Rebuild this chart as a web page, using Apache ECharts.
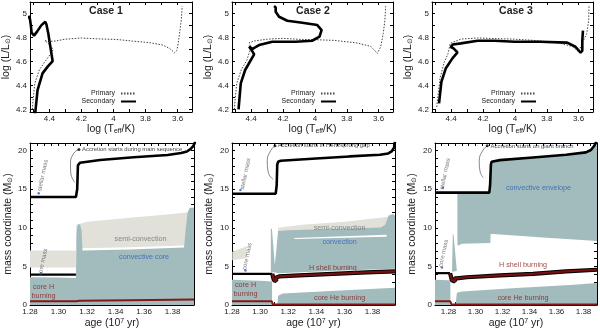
<!DOCTYPE html>
<html>
<head>
<meta charset="utf-8">
<script src="https://cdn.jsdelivr.net/npm/echarts@6/dist/echarts.min.js"></script>
<style>
  html, body { margin: 0; padding: 0; background: #fff; }
  #chart { width: 600px; height: 334px; }
</style>
</head>
<body>
<div id="chart"></div>
<script>
// ---- tick values / labels ----
const hrTempTicks = [3.6, 3.7, 3.8, 3.9, 4.0, 4.1, 4.2, 4.3, 4.4, 4.5]
const hrTempLabels = [3.6, 3.8, 4.0, 4.2, 4.4]
const hrLumTicks = [4.2, 4.3, 4.4, 4.5, 4.6, 4.7, 4.8, 4.9, 5.0]
const hrLumLabels = [4.2, 4.4, 4.6, 4.8, 5.0]
const ageTicks = [1.27, 1.275, 1.28, 1.285, 1.29, 1.295, 1.30, 1.305, 1.31, 1.315, 1.32, 1.325,
  1.33, 1.335, 1.34, 1.345, 1.35, 1.355, 1.36, 1.365, 1.37, 1.375, 1.38, 1.385, 1.39, 1.395]
const ageLabels = [1.28, 1.30, 1.32, 1.34, 1.36, 1.38]
const massTicks = [0, 1, 2, 3, 4, 5, 6, 7, 8, 9, 10, 11, 12, 13, 14, 15, 16, 17, 18, 19, 20, 21]
const massLabels = [0, 5, 10, 15, 20]

// ---- HR tracks: [log Teff, log L] ----
const primary1 = [[4.505, 4.2], [4.503, 4.25], [4.49, 4.417], [4.4625, 4.528], [4.427, 4.597], [4.39, 4.667],
  [4.375, 4.7], [4.395, 4.735], [4.428, 4.775], [4.41, 4.765], [4.36, 4.77], [4.3, 4.785], [4.2, 4.795],
  [4.0875, 4.787], [3.983, 4.783], [3.879, 4.769], [3.775, 4.756], [3.692, 4.736], [3.65, 4.708],
  [3.619, 4.672], [3.605, 4.69], [3.598, 4.736], [3.5875, 4.833], [3.577, 4.944], [3.571, 5.06]]
const secondary1 = [[4.489, 4.15], [4.473, 4.361], [4.442, 4.5], [4.41, 4.556], [4.379, 4.603], [4.39, 4.694],
  [4.406, 4.833], [4.418, 4.91], [4.425, 4.93], [4.435, 4.925], [4.45, 4.9], [4.475, 4.85], [4.495, 4.815],
  [4.503, 4.81], [4.51, 4.84], [4.515, 4.9], [4.52, 4.95], [4.53, 4.98]]
const primary2 = [[4.505, 4.2], [4.503, 4.25], [4.49, 4.417], [4.4625, 4.528], [4.427, 4.61], [4.41, 4.68],
  [4.405, 4.73], [4.412, 4.756], [4.38, 4.77], [4.3, 4.785], [4.2, 4.792], [4.0875, 4.783], [3.98, 4.78],
  [3.879, 4.775], [3.733, 4.753], [3.65, 4.725], [3.608, 4.667], [3.5875, 4.722], [3.571, 4.833],
  [3.561, 4.944], [3.556, 5.06]]
const secondary2 = [[4.479, 4.2], [4.465, 4.417], [4.4375, 4.528], [4.408, 4.597], [4.381, 4.658],
  [4.395, 4.69], [4.4125, 4.722], [4.39, 4.705], [4.37, 4.72], [4.35, 4.736], [4.267, 4.764],
  [4.121, 4.764], [4.017, 4.772], [3.971, 4.806], [3.958, 4.861], [3.985, 4.903], [4.079, 4.922],
  [4.173, 4.939], [4.225, 4.972], [4.246, 5.014], [4.246, 5.05], [4.256, 5.061]]
const primary3 = [[4.49, 4.22], [4.487, 4.263], [4.47, 4.458], [4.444, 4.59], [4.419, 4.666], [4.406, 4.75],
  [4.4125, 4.758], [4.339, 4.786], [4.234, 4.795], [4.128, 4.79], [4.0, 4.785], [3.88, 4.775],
  [3.72, 4.752], [3.64, 4.725], [3.6, 4.68], [3.575, 4.76], [3.55, 4.83], [3.537, 4.94], [3.535, 5.07]]
const secondary3 = [[4.476, 4.25], [4.461, 4.43], [4.434, 4.54], [4.392, 4.625], [4.36, 4.675],
  [4.385, 4.708], [4.402, 4.72], [4.39, 4.74], [4.339, 4.75], [4.234, 4.772], [4.128, 4.772],
  [4.0, 4.764], [3.841, 4.764], [3.672, 4.756], [3.62, 4.722], [3.588, 4.672], [3.577, 4.69],
  [3.577, 4.778], [3.573, 4.856]]

// ---- Kippenhahn panels: [age (1e7 yr), mass coordinate (Msun)] ----
const stellarMass1 = [[1.28, 14.0], [1.3122, 14.0], [1.3131, 15.0], [1.3136, 18.1], [1.315, 18.45],
  [1.3292, 18.8], [1.3528, 19.15], [1.3765, 19.45], [1.386, 19.7], [1.39, 19.9], [1.3925, 20.2],
  [1.3945, 20.6], [1.396, 21.2]]
const coreMass1 = [[1.28, 3.93], [1.3122, 3.93]]
const coreHBurning1 = [[1.28, 0.5], [1.3125, 0.5], [1.3133, 0.32], [1.3145, 0.55], [1.35, 0.62], [1.395, 0.72]]
const convCore1 = [[1.28, 0], [1.28, 3.6], [1.3, 3.55], [1.3122, 3.5], [1.3126, 9.0], [1.313, 10.1],
  [1.314, 10.5], [1.3152, 10.4], [1.3162, 9.6], [1.3168, 7.05], [1.35, 7.2], [1.388, 7.45],
  [1.389, 9.5], [1.3905, 12.0], [1.392, 12.6], [1.395, 12.6], [1.395, 0]]
const semiConv1Early = [[1.28, 4.85], [1.28, 7.05], [1.3122, 7.05], [1.3122, 4.85]]
const semiConv1Late = [[1.3125, 7.3], [1.3125, 10.4], [1.32, 10.8], [1.35, 11.3], [1.38, 11.8],
  [1.394, 12.1], [1.394, 7.75], [1.35, 7.5], [1.3168, 7.35]]
const accretionArrow1 = [[1.3143, 20.17], [1.3107, 19.66], [1.3084, 18.38], [1.3086, 17.1], [1.3114, 15.9]]

const stellarMass2 = [[1.28, 14.43], [1.3111, 14.43], [1.3118, 15.5], [1.3122, 18.2], [1.3128, 18.57],
  [1.3147, 18.7], [1.3398, 19.0], [1.3637, 19.26], [1.3853, 19.48], [1.3912, 19.65], [1.3936, 19.9],
  [1.3953, 20.4], [1.396, 21.2]]
const coreMass2 = [[1.28, 4.04], [1.3087, 4.04]]
const hShell2 = [[1.3087, 4.04], [1.3092, 3.6], [1.3098, 3.2], [1.3106, 3.05], [1.3115, 3.1],
  [1.3119, 3.35], [1.3112, 3.55], [1.3122, 3.6], [1.3135, 3.7], [1.3278, 3.83], [1.3517, 4.04],
  [1.3757, 4.22], [1.396, 4.35]]
const coreHBurning2 = [[1.28, 0.5], [1.3082, 0.5], [1.3092, 0.05], [1.396, 0.05]]
const convCore2 = [[1.28, 0], [1.28, 3.26], [1.3, 3.15], [1.3085, 3.05], [1.3085, 0]]
const convUpper2 = [[1.3076, 4.3], [1.3076, 9.9], [1.3084, 9.9], [1.3105, 5.2], [1.3128, 9.6], [1.32, 9.7],
  [1.35, 9.85], [1.386, 10.05], [1.389, 10.4], [1.3915, 11.6], [1.3945, 11.8], [1.396, 11.6],
  [1.396, 4.7], [1.35, 4.4], [1.3135, 4.1], [1.3105, 4.2]]
const convGap2 = [[1.3245, 8.55], [1.39, 8.85], [1.39, 9.1], [1.3245, 8.7]]
const convHe2 = [[1.3123, 0], [1.3128, 1.2], [1.316, 1.5], [1.35, 1.8], [1.396, 2.25], [1.396, 0]]
const semiConv2Early = [[1.2802, 5.8], [1.2802, 6.9], [1.2905, 7.6], [1.2905, 6.1]]
const semiConv2Late = [[1.3128, 9.5], [1.3128, 10.0], [1.33, 10.4], [1.36, 10.8], [1.39, 11.4],
  [1.396, 11.5], [1.396, 10.0]]
const accretionArrow2 = [[1.3106, 20.65], [1.3075, 20.0], [1.3051, 18.7], [1.3058, 17.2], [1.3092, 16.3]]

const stellarMass3 = [[1.27, 14.57], [1.3102, 14.57], [1.3108, 15.5], [1.3114, 18.2], [1.3119, 18.57],
  [1.318, 18.78], [1.3426, 19.13], [1.3671, 19.48], [1.3818, 19.78], [1.3855, 20.09], [1.388, 20.65],
  [1.3895, 21.2]]
const coreMass3 = [[1.27, 4.13], [1.2812, 4.13]]
const hShell3 = [[1.2812, 4.13], [1.2818, 3.7], [1.2825, 3.2], [1.2835, 3.0], [1.2848, 3.05], [1.2852, 3.3],
  [1.2845, 3.45], [1.2861, 3.45], [1.2935, 3.6], [1.318, 3.83], [1.3426, 4.04], [1.3671, 4.35], [1.39, 4.57]]
const coreHBurning3 = [[1.27, 0.5], [1.2812, 0.5], [1.2822, 0.08], [1.39, 0.08]]
const convCore3 = [[1.27, 0], [1.27, 3.26], [1.28, 3.2], [1.2814, 3.15], [1.2814, 0]]
const convSpike3 = [[1.2826, 4.3], [1.2832, 9.3], [1.2838, 9.0], [1.2862, 4.4]]
const convEnvelope3 = [[1.2866, 7.8], [1.2866, 14.57], [1.3102, 14.57], [1.3108, 15.5], [1.3114, 18.2],
  [1.3119, 18.57], [1.318, 18.78], [1.3426, 19.13], [1.3671, 19.48], [1.3818, 19.78], [1.3855, 20.09],
  [1.388, 20.65], [1.39, 21.0], [1.39, 8.3], [1.35, 8.75], [1.313, 9.2], [1.3112, 9.2], [1.311, 8.05],
  [1.29, 7.95], [1.2875, 7.7]]
const convHe3 = [[1.2852, 0], [1.2862, 1.6], [1.29, 1.75], [1.33, 2.2], [1.37, 2.6], [1.39, 2.85], [1.39, 0]]
const accretionArrow3 = [[1.3087, 20.65], [1.3053, 20.0], [1.3028, 18.7], [1.3033, 17.4], [1.3058, 16.5]]

// annotation anchors (data coords)
const accretionNotes = [
  { at: [1.3165, 20.2], text: 'Accretion starts during main sequence' },
  { at: [1.3125, 20.65], text: 'Accretion starts in Hertzsprung gap' },
  { at: [1.3112, 20.55], text: 'Accretion starts on giant branch' },
]
const stellarMassNotes = [[1.289, 16.8], [1.2896, 17.0], [1.2775, 17.0]]
const stellarMassDots = [[1.2861, 14.5], [1.286, 14.9], [1.2758, 15.2]]
const coreMassNotes = [[1.289, 5.55], [1.2908, 6.3], [1.2763, 6.7]]
const coreMassDots = [[1.2878, 4.1], [1.2896, 4.48], [1.2751, 4.87]]
const regionNotes = [
  [[1.3575, 8.6, 'semi-convection', 'grey'], [1.36, 6.2, 'convective core', 'blue'], [1.2895, 1.8, 'core H\nburning', 'red']],
  [[1.3566, 10.0, 'semi-convection', 'grey'], [1.3566, 8.1, 'convection', 'blue'], [1.3518, 4.75, 'H shell burning', 'red'],
    [1.2896, 1.95, 'core H\nburning', 'red'], [1.3566, 0.87, 'core He burning', 'red']],
  [[1.3467, 15.2, 'convective envelope', 'blue'], [1.3352, 5.2, 'H shell burning', 'red'], [1.3352, 0.96, 'core He burning', 'red']],
]

const FONT = 'Liberation Sans'
const TEAL = '#a2bcbd'
const SEMI = '#e1e1da'
const RED = '#861616'
const TEXT_COLORS = { grey: '#6e6e6e', blue: '#2c5db5', red: RED }

const grids = [
  { left: 30, top: 2, width: 162, height: 110 },
  { left: 232, top: 2, width: 161, height: 110 },
  { left: 432, top: 2, width: 161, height: 110 },
  { left: 30, top: 143, width: 164, height: 162 },
  { left: 232, top: 143, width: 163, height: 162 },
  { left: 435, top: 143, width: 162, height: 162 },
]

const nameStyle = {
  fontSize: 10.5, color: '#222', fontFamily: FONT,
  rich: {
    sub: { fontSize: 7, fontFamily: FONT, color: '#222', verticalAlign: 'bottom' },
    sup: { fontSize: 7, fontFamily: FONT, color: '#222', verticalAlign: 'top' },
  },
}

const trimNum = (v) => String(+v.toFixed(2))
const ageFmt = (v) => v.toFixed(2)

function axisPair(kind, gi, min, max, ticks, labels, fmt, name, nameGap, inverse) {
  const base = {
    type: 'value', gridIndex: gi, min, max, inverse: !!inverse,
    splitLine: { show: false },
    axisLine: { show: true, onZero: false, lineStyle: { color: '#000', width: 1 } },
    axisTick: { show: true, inside: true, length: 3, customValues: ticks, lineStyle: { color: '#000' } },
  }
  const main = {
    ...base,
    position: kind === 'x' ? 'bottom' : 'left',
    axisLabel: { customValues: labels, formatter: fmt, fontSize: 8, color: '#222', fontFamily: FONT, margin: 3 },
    name, nameLocation: 'middle', nameGap, nameTextStyle: nameStyle,
  }
  const mirror = { ...base, position: kind === 'x' ? 'top' : 'right', axisLabel: { show: false } }
  return [main, mirror]
}

const xAxis = []
const yAxis = []
for (let i = 0; i < 3; i++) {
  xAxis.push(...axisPair('x', i, 3.51, 4.52, hrTempTicks, hrTempLabels, trimNum, 'log (T{sub|eff}/K)', 7, true))
  yAxis.push(...axisPair('y', i, 4.178, 5.095, hrLumTicks, hrLumLabels, trimNum, 'log (L/L{sub|⊙})', i === 0 ? 16 : 17))
}
const ageRanges = [[1.28, 1.395], [1.28, 1.396], [1.27, 1.39]]
for (let i = 0; i < 3; i++) {
  xAxis.push(...axisPair('x', 3 + i, ageRanges[i][0], ageRanges[i][1],
    ageTicks.filter((t) => t >= ageRanges[i][0] - 1e-9 && t <= ageRanges[i][1] + 1e-9), ageLabels, ageFmt,
    'age (10{sup|7} yr)', 13))
  yAxis.push(...axisPair('y', 3 + i, 0, 21, massTicks, massLabels, String, 'mass coordinate (M{sub|⊙})', i === 0 ? 16 : 17))
}

const series = []

function line(gi, data, color, width, extra) {
  series.push(Object.assign({
    type: 'line', xAxisIndex: 2 * gi, yAxisIndex: 2 * gi, data,
    showSymbol: false, symbol: 'none', silent: true, z: 4,
    lineStyle: { color, width }, itemStyle: { color },
  }, extra || {}))
}

function poly(gi, pts, fill, z) {
  series.push({
    type: 'custom', xAxisIndex: 2 * gi, yAxisIndex: 2 * gi, data: pts, silent: true, clip: true, z,
    renderItem: (params, api) => {
      if (params.dataIndex !== 0) return null
      return { type: 'polygon', shape: { points: pts.map((p) => api.coord(p)) }, style: { fill } }
    },
  })
}

function texts(gi, items, z) {
  series.push({
    type: 'scatter', xAxisIndex: 2 * gi, yAxisIndex: 2 * gi, symbolSize: 0, silent: true, z: z || 6,
    data: items.map((it) => ({
      value: it.at,
      label: Object.assign({
        show: true, position: [0, 0], formatter: it.text, fontFamily: FONT,
        align: 'center', verticalAlign: 'middle', lineHeight: 9,
      }, it.style),
    })),
  })
}

function dots(gi, pts, color, size) {
  series.push({
    type: 'scatter', xAxisIndex: 2 * gi, yAxisIndex: 2 * gi, data: pts, symbolSize: size,
    itemStyle: { color }, silent: true, z: 6,
  })
}

// HR diagrams
const hrTracks = [[primary1, secondary1], [primary2, secondary2], [primary3, secondary3]]
hrTracks.forEach(([p, s], gi) => {
  line(gi, p, '#444', 1, { name: 'Primary', lineStyle: { color: '#444', width: 1, type: [1.5, 1.5] } })
  line(gi, s, '#000', 2.6, { name: 'Secondary', z: 5 })
})

// Kippenhahn: polygons
poly(3, semiConv1Early, SEMI, 1)
poly(3, semiConv1Late, SEMI, 1)
poly(3, convCore1, TEAL, 2)

poly(4, semiConv2Early, SEMI, 1)
poly(4, semiConv2Late, SEMI, 1)
poly(4, convCore2, TEAL, 2)
poly(4, convUpper2, TEAL, 2)
poly(4, convHe2, TEAL, 2)
poly(4, convGap2, '#ffffff', 3)

poly(5, convCore3, TEAL, 2)
poly(5, convSpike3, TEAL, 2)
poly(5, convEnvelope3, TEAL, 2)
poly(5, convHe3, TEAL, 2)

// Kippenhahn: lines
const kip = [
  { gi: 3, sm: stellarMass1, cm: coreMass1, hs: null, ch: coreHBurning1, arrow: accretionArrow1 },
  { gi: 4, sm: stellarMass2, cm: coreMass2, hs: hShell2, ch: coreHBurning2, arrow: accretionArrow2 },
  { gi: 5, sm: stellarMass3, cm: coreMass3, hs: hShell3, ch: coreHBurning3, arrow: accretionArrow3 },
]
kip.forEach((k, i) => {
  line(k.gi, k.ch, RED, 2)
  line(k.gi, k.cm, '#000', 2.2)
  if (k.hs) {
    line(k.gi, k.hs, '#000', 4.2)
    line(k.gi, k.hs, '#7a0f0f', 2.2, { z: 5 })
  }
  line(k.gi, k.sm, '#000', 2.6, { z: 5 })
  line(k.gi, k.arrow, '#666', 0.8, { smooth: true })
  dots(k.gi, [k.arrow[0]], '#000', 3)
  dots(k.gi, [stellarMassDots[i], coreMassDots[i]], '#2c5db5', 2.5)
  const notes = [
    { at: accretionNotes[i].at, text: accretionNotes[i].text, style: { align: 'left', fontSize: 5.9, color: '#111' } },
    { at: stellarMassNotes[i], text: 'stellar mass', style: { fontSize: 6, color: '#555', rotate: 78 } },
    { at: coreMassNotes[i], text: 'core mass', style: { fontSize: 6, color: '#555', rotate: 78 } },
  ]
  regionNotes[i].forEach(([x, y, t, c]) => {
    notes.push({ at: [x, y], text: t, style: { fontSize: 7.2, color: TEXT_COLORS[c] } })
  })
  texts(k.gi, notes)
})

const legendBase = {
  data: ['Primary', 'Secondary'], orient: 'vertical', align: 'right', top: 90,
  itemWidth: 15, itemHeight: 5, itemGap: 1, padding: 0, selectedMode: false,
  itemStyle: { opacity: 0 },
  textStyle: { fontSize: 7, color: '#222', fontFamily: FONT, padding: [0, 1, 0, 0] },
}

const option = {
  animation: false,
  backgroundColor: '#fff',
  textStyle: { fontFamily: FONT },
  title: [
    { text: 'Case 1', left: 106, top: 6, textAlign: 'center' },
    { text: 'Case 2', left: 313, top: 6, textAlign: 'center' },
    { text: 'Case 3', left: 516, top: 6, textAlign: 'center' },
  ].map((t) => Object.assign(t, { padding: 0, textStyle: { fontSize: 10.5, fontWeight: 'bold', color: '#222', fontFamily: FONT } })),
  legend: [
    Object.assign({}, legendBase, { right: 463 }),
    Object.assign({}, legendBase, { right: 263 }),
    Object.assign({}, legendBase, { right: 63 }),
  ],
  grid: grids,
  xAxis,
  yAxis,
  series,
}

const chart = echarts.init(document.getElementById('chart'), null, { renderer: 'canvas' })
chart.setOption(option)
</script>
</body>
</html>
